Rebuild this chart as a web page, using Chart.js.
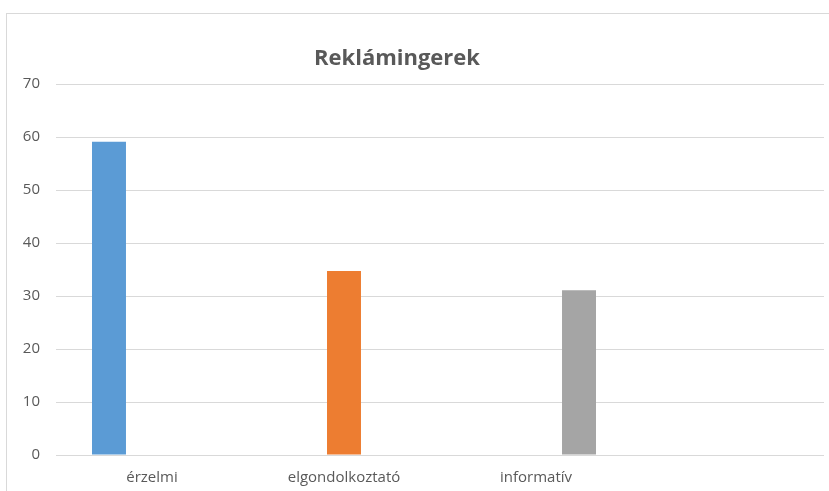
<!DOCTYPE html>
<html>
<head>
<meta charset="utf-8">
<script src="https://cdn.jsdelivr.net/npm/chart.js@4/dist/chart.umd.min.js"></script>
<style>
    body { margin: 0; background: #fff; }
    #frame {
        position: absolute;
        left: 6px;
        top: 13px;
        border-left: 1px solid #d9d9d9;
        border-top: 1px solid #d9d9d9;
    }
    canvas { display: block; }
</style>
</head>
<body>
<div id="frame"><canvas id="chart" width="822" height="477"></canvas></div>
<script>
const categories = ["érzelmi", "elgondolkoztató", "informatív", ""];
const seriesNames = ["érzelmi", "elgondolkoztató", "informatív"];
const seriesValues = [59.1, 34.7, 31.1];
const seriesColors = ["#5B9BD5", "#ED7D31", "#A5A5A5"];
const yTicks = [0, 10, 20, 30, 40, 50, 60, 70];
const chartTitle = "Reklámingerek";

const textColor = "#595959";
const gridColor = "#d9d9d9";

// every series only has a value in its own category (like the Excel source)
const datasets = seriesNames.map((name, i) => ({
    label: name,
    data: categories.map((c, j) => (j === i ? seriesValues[i] : null)),
    backgroundColor: seriesColors[i],
    categoryPercentage: 0.672,
    barPercentage: 0.79,
}));

// title sits a bit left of the plot centre in the original, so draw it ourselves
const titlePlugin = {
    id: "offsetTitle",
    afterDraw(chart) {
        const ctx = chart.ctx;
        ctx.save();
        ctx.fillStyle = textColor;
        ctx.font = "bold 22px 'Open Sans'";
        ctx.textAlign = "center";
        ctx.textBaseline = "alphabetic";
        ctx.fillText(chartTitle, 390, 51);
        ctx.restore();
    },
};

new Chart(document.querySelector("#chart").getContext("2d"), {
    type: "bar",
    data: { labels: categories, datasets: datasets },
    plugins: [titlePlugin],
    options: {
        responsive: false,
        animation: false,
        devicePixelRatio: 1,
        layout: { padding: { top: 70, right: 5, bottom: 0 } },
        plugins: {
            legend: { display: false },
            tooltip: { enabled: false },
            title: { display: false },
        },
        scales: {
            x: {
                afterFit: (scale) => {
                    scale.height = 36;
                },
                grid: { display: false, drawTicks: false, tickLength: 0 },
                border: { display: false },
                ticks: {
                    color: textColor,
                    font: { family: "'Open Sans'", size: 15 },
                    padding: 14,
                    maxRotation: 0,
                },
            },
            y: {
                min: 0,
                max: 70,
                afterBuildTicks: (scale) => {
                    scale.ticks = yTicks.map((v) => ({ value: v }));
                },
                afterFit: (scale) => {
                    scale.width = 49;
                },
                grid: { color: gridColor, lineWidth: 1, drawTicks: false },
                border: { display: false },
                ticks: {
                    color: textColor,
                    font: { family: "'Open Sans'", size: 15 },
                    padding: 16,
                },
            },
        },
    },
});
</script>
</body>
</html>
